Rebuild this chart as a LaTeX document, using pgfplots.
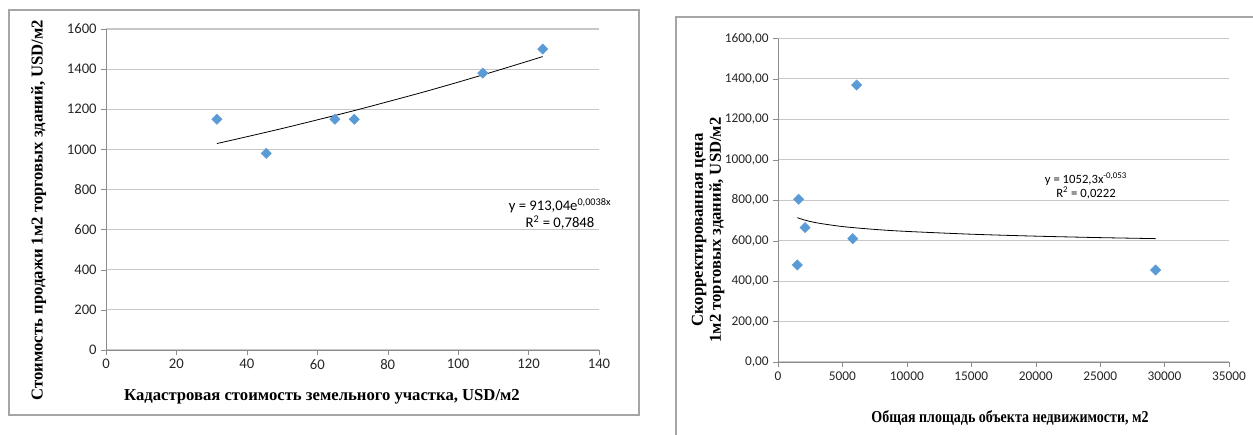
\documentclass[border=0pt]{standalone}
\usepackage{fontspec}
\setmainfont{Carlito}
\newfontfamily\tnr{Liberation Serif}
\usepackage{pgfplots}
\pgfplotsset{compat=1.18}
\definecolor{mk}{HTML}{5B9BD5}
\definecolor{grd}{HTML}{C8C8C8}
\definecolor{axl}{HTML}{8C8C8C}
\definecolor{frm}{HTML}{A6A6A6}
\pgfplotsset{
  xlsstyle/.style={
    scale only axis,
    axis lines*=left,
    axis line style={axl},
    ymajorgrids,
    grid style={grd, line width=0.8pt},
    tick style={axl},
    tick align=outside,
    major tick length=3.5pt,
    tick label style={font=\fontsize{10}{12}\selectfont, text=black!85},
    /pgf/number format/assume math mode=true,
    /pgf/number format/1000 sep={},
    clip=false,
  },
  pts/.style={only marks, mark=square*, mark size=2.7pt,
    mark options={rotate=45, fill=mk, draw=mk}},
  trend/.style={black, line width=0.6pt, smooth, no marks},
}
\begin{document}
\begin{tikzpicture}
\path[use as bounding box] (0,0) rectangle (939.75pt,326.25pt);
\draw[frm, line width=0.8pt] (6.75pt,15pt) rectangle (479.25pt,318.75pt);
\draw[frm, line width=0.8pt] (507pt,-10pt) rectangle (945pt,313.5pt);

% left chart
\begin{axis}[xlsstyle,
  at={(79.5pt,63.75pt)}, anchor=south west,
  width=369.75pt, height=240.75pt,
  xmin=0, xmax=140, ymin=0, ymax=1600,
  xtick={0,20,...,140}, ytick={0,200,...,1600},
  tick label style={font=\fontsize{11}{13}\selectfont},
]
\addplot[pts] coordinates {
  (31.5,1150) (45.5,980) (65,1150) (70.5,1150) (107,1380) (124,1500)
};
\addplot[trend] coordinates {
  (31.5,1029) (40,1063) (50,1104) (60,1147) (70,1191) (80,1237.5)
  (90,1285) (100,1335) (110,1387) (120,1440.6) (124,1462.6)
};
\end{axis}

% right chart
\begin{axis}[xlsstyle,
  at={(583.5pt,54.75pt)}, anchor=south west,
  width=338.25pt, height=242.6pt,
  xmin=0, xmax=35000, ymin=0, ymax=1600,
  xtick={0,5000,...,35000}, ytick={0,200,...,1600},
  scaled x ticks=false,
  yticklabel={\pgfmathprintnumber[fixed,fixed zerofill,precision=2,use comma,1000 sep={}]{\tick}},
]
\addplot[pts] coordinates {
  (1500,480) (1600,805) (2100,665) (5800,610) (6100,1370) (29300,455)
};
\addplot[trend] coordinates {
  (1500,714) (2000,703.4) (3000,688.4) (5000,670) (7500,655.8) (10000,645.9)
  (15000,632.1) (20000,622.5) (25000,615.2) (29300,610.3)
};
\end{axis}

% labels
\node[font=\tnr\bfseries\fontsize{12.5}{14}\selectfont] at (241.5pt,28.5pt)
  {Кадастровая стоимость земельного участка, USD/м2};
\node[font=\tnr\bfseries\fontsize{12.5}{14}\selectfont, rotate=90] at (29pt,168.75pt)
  {Стоимость продажи 1м2 торговых зданий, USD/м2};
\node[font=\fontsize{11}{13}\selectfont, align=center] at (420pt,165.75pt)
  {y = 913,04e\textsuperscript{0,0038x}\\R\textsuperscript{2} = 0,7848};

\node[font=\tnr\bfseries\fontsize{12.5}{14}\selectfont] at (757.5pt,12.75pt)
  {\scalebox{0.84}[1]{Общая площадь объекта недвижимости, м2}};
\node[font=\tnr\bfseries\fontsize{12.5}{13.5}\selectfont, rotate=90, align=center] at (531pt,153.75pt)
  {Скорректированная цена\\1м2 торговых зданий, USD/м2};
\node[font=\fontsize{9.5}{11}\selectfont, align=center] at (814.5pt,186.75pt)
  {y = 1052,3x\textsuperscript{-0,053}\\R\textsuperscript{2} = 0,0222};
\end{tikzpicture}
\end{document}
